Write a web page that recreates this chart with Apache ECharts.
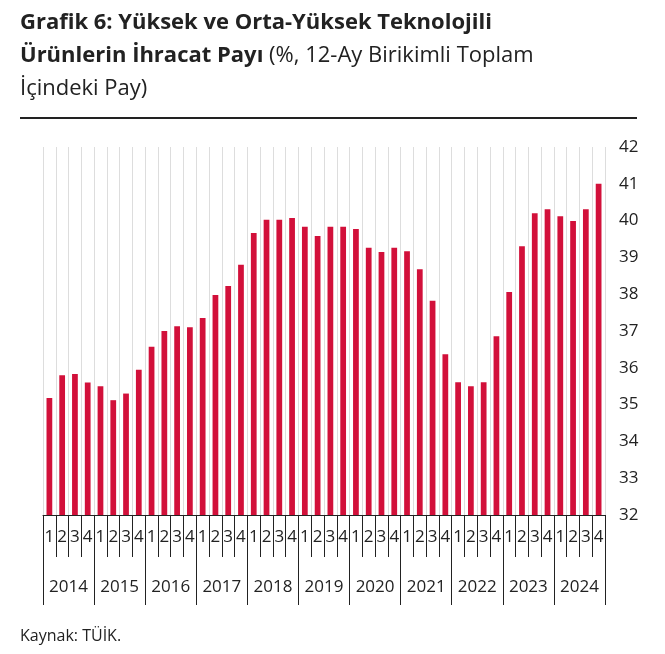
<!DOCTYPE html><html><head><meta charset="utf-8"><script src="https://cdn.jsdelivr.net/npm/echarts@6/dist/echarts.min.js"></script>
<style>body{margin:0;background:#fff;font-family:"Open Sans",sans-serif}#t{position:absolute;left:20px;top:4px;font-size:22px;line-height:33px;color:#222;white-space:nowrap}#hr{position:absolute;left:20px;top:117px;width:617px;border-top:2px solid #222}#s{position:absolute;left:20px;top:624px;font-size:16px;color:#222}#c{position:absolute;left:0;top:0;width:665px;height:654px}</style></head><body>
<div id="c"></div>
<div id="t"><b>Grafik 6: Yüksek ve Orta-Yüksek Teknolojili</b><br><b>Ürünlerin İhracat Payı</b> (%, 12-Ay Birikimli Toplam<br>İçindeki Pay)</div><div id="hr"></div><div id="s">Kaynak: TÜİK.</div>
<script>
const years=['2014','2015','2016','2017','2018','2019','2020','2021','2022','2023','2024'];
const quarters=['1','2','3','4'];
const values=[35.18,35.8,35.83,35.6, 35.5,35.12,35.3,35.95, 36.57,37.0,37.13,37.1, 37.35,37.98,38.22,38.8, 39.66,40.02,40.02,40.07, 39.83,39.58,39.83,39.83, 39.77,39.26,39.15,39.26, 39.17,38.68,37.82,36.37, 35.61,35.5,35.61,36.86, 38.06,39.3,40.2,40.31, 40.12,39.99,40.31,41.0];
const cats=[];years.forEach(y=>quarters.forEach(q=>cats.push(y+'-'+q)));
const ch=echarts.init(document.getElementById('c'));
const f={fontFamily:'Open Sans',fontSize:17,color:'#222'};
ch.setOption({animation:false,grid:{left:43,right:60,top:147,bottom:139},
xAxis:[{type:'category',data:cats,axisLine:{lineStyle:{color:'#222'}},axisTick:{show:true,interval:0,length:42,lineStyle:{color:'#222'}},splitLine:{show:true,interval:0,lineStyle:{color:'#ddd'}},axisLabel:Object.assign({},f,{interval:0,margin:14,formatter:v=>v.split('-')[1]})},
{type:'category',data:years,position:'bottom',axisLine:{show:false},axisTick:{show:true,interval:0,length:90,lineStyle:{color:'#222'}},axisLabel:Object.assign({},f,{interval:0,margin:64})}],
yAxis:{type:'value',min:32,max:42,interval:1,position:'right',splitLine:{show:false},axisLine:{show:false},axisTick:{show:false},axisLabel:Object.assign({},f,{margin:14})},
series:[{type:'bar',data:values,barWidth:'45%',itemStyle:{color:'#d2103a'}}]});
</script></body></html>
